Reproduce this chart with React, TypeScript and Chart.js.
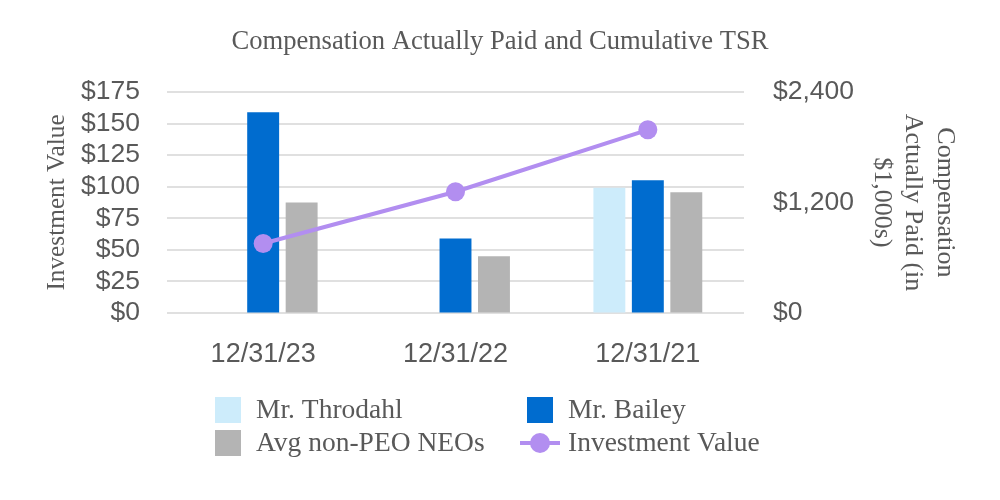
import React, { useEffect, useRef } from "react";
import { Chart, registerables } from "chart.js";

Chart.register(...registerables);

const categories = ["12/31/23", "12/31/22", "12/31/21"];
const throdahl = [null, null, 1360];
const bailey = [2180, 810, 1440];
const nonPeo = [1200, 615, 1310];
const investmentValue = [55, 96, 145];

const leftTicksMax = 175;
const leftStep = 25;
const rightTicksMax = 2400;
const rightStep = 1200;

const TEXT = "#595959";
const SERIF = "'Liberation Serif', 'Times New Roman', serif";
const SANS = "'Liberation Sans', Arial, sans-serif";

const COLORS = {
  throdahl: "#cdecfb",
  bailey: "#006ccf",
  nonPeo: "#b4b4b4",
  line: "#b28ef0",
};

const legendPlugin = {
  id: "gridLegend",
  afterDraw(chart: any) {
    const ctx = chart.ctx;
    const items = [
      { label: "Mr. Throdahl", color: COLORS.throdahl, kind: "box", col: 0, row: 0 },
      { label: "Mr. Bailey", color: COLORS.bailey, kind: "box", col: 1, row: 0 },
      { label: "Avg non-PEO NEOs", color: COLORS.nonPeo, kind: "box", col: 0, row: 1 },
      { label: "Investment Value", color: COLORS.line, kind: "line", col: 1, row: 1 },
    ];
    const colX = [215, 527];
    const rowY = [410, 443];
    ctx.save();
    ctx.font = `27.5px ${SERIF}`;
    ctx.textBaseline = "middle";
    ctx.textAlign = "left";
    for (const it of items) {
      const x = colX[it.col];
      const y = rowY[it.row];
      if (it.kind === "box") {
        ctx.fillStyle = it.color;
        ctx.fillRect(x, y - 13, 26, 26);
      } else {
        ctx.strokeStyle = it.color;
        ctx.lineWidth = 4;
        ctx.beginPath();
        ctx.moveTo(x - 7, y);
        ctx.lineTo(x + 33, y);
        ctx.stroke();
        ctx.fillStyle = it.color;
        ctx.beginPath();
        ctx.arc(x + 13, y, 10, 0, Math.PI * 2);
        ctx.fill();
      }
      ctx.fillStyle = TEXT;
      ctx.fillText(it.label, x + 41, y + 1);
    }
    ctx.restore();
  },
};

export default function App() {
  const ref = useRef<HTMLCanvasElement | null>(null);

  useEffect(() => {
    document.body.style.margin = "0";
    const canvas = ref.current;
    if (!canvas) return;
    const chart = new Chart(canvas, {
      type: "bar",
      data: {
        labels: categories,
        datasets: [
          {
            type: "line",
            label: "Investment Value",
            data: investmentValue,
            yAxisID: "y",
            borderColor: COLORS.line,
            backgroundColor: COLORS.line,
            borderWidth: 4,
            pointRadius: 9.5,
            pointBackgroundColor: COLORS.line,
            pointBorderWidth: 0,
            order: 0,
          } as any,
          {
            label: "Mr. Throdahl",
            data: throdahl,
            backgroundColor: COLORS.throdahl,
            yAxisID: "y1",
            order: 1,
          },
          {
            label: "Mr. Bailey",
            data: bailey,
            backgroundColor: COLORS.bailey,
            yAxisID: "y1",
            order: 1,
          },
          {
            label: "Avg non-PEO NEOs",
            data: nonPeo,
            backgroundColor: COLORS.nonPeo,
            yAxisID: "y1",
            order: 1,
          },
        ],
      },
      options: {
        responsive: false,
        animation: false,
        datasets: {
          bar: { categoryPercentage: 0.6, barPercentage: 0.83 },
        },
        layout: { padding: { top: 0, bottom: 137, left: 0, right: 0 } },
        plugins: {
          legend: { display: false },
          tooltip: { enabled: false },
          title: {
            display: true,
            text: "Compensation Actually Paid and Cumulative TSR",
            color: TEXT,
            font: { family: SERIF, size: 26.6, weight: "normal" },
            padding: { top: 26, bottom: 34 },
          },
        },
        scales: {
          x: {
            grid: { display: false },
            border: { display: false },
            ticks: {
              color: TEXT,
              font: { family: SANS, size: 27 },
              padding: 17,
            },
            afterFit: (s: any) => {
              s.height = 50;
            },
          },
          y: {
            position: "left",
            min: 0,
            max: leftTicksMax,
            ticks: {
              stepSize: leftStep,
              autoSkip: false,
              color: TEXT,
              font: { family: SANS, size: 26.5 },
              padding: 27,
              callback: (v: any) => "$" + v,
            },
            grid: { color: "#e0e0e0", lineWidth: 2, drawTicks: false },
            border: { display: false },
            title: {
              display: true,
              text: "Investment Value",
              color: TEXT,
              font: { family: SERIF, size: 25.3 },
              padding: { top: 42, bottom: 0 },
            },
            afterFit: (s: any) => {
              s.width = 167;
            },
          },
          y1: {
            position: "right",
            min: 0,
            max: rightTicksMax,
            ticks: {
              stepSize: rightStep,
              autoSkip: false,
              color: TEXT,
              font: { family: SANS, size: 26.5 },
              padding: 29,
              callback: (v: any) => "$" + Number(v).toLocaleString("en-US"),
            },
            grid: { drawOnChartArea: false, drawTicks: false },
            border: { display: false },
            title: {
              display: true,
              text: ["Compensation", "Actually Paid (in", "$1,000s)"],
              color: TEXT,
              font: { family: SERIF, size: 26 },
              padding: { top: 40, bottom: 0 },
            },
            afterFit: (s: any) => {
              s.width = 256;
            },
          },
        },
      },
      plugins: [legendPlugin],
    });
    return () => chart.destroy();
  }, []);

  return <canvas ref={ref} width={1000} height={500} style={{ display: "block" }} />;
}
